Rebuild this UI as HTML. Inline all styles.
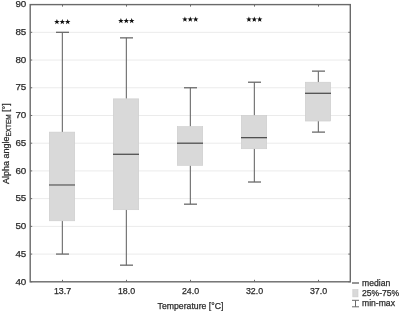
<!DOCTYPE html>
<html><head><meta charset="utf-8"><style>html,body{margin:0;padding:0;background:#fff;width:400px;height:311px;overflow:hidden}svg{display:block;will-change:transform}</style></head><body>
<svg width="400" height="311" viewBox="0 0 400 311" font-family='"Liberation Sans", sans-serif'><style>text{stroke:#333;stroke-width:0.25px}</style>
<rect width="400" height="311" fill="#fff"/>
<line x1="30.2" y1="254.08" x2="350.3" y2="254.08" stroke="#ebebeb" stroke-width="1"/>
<line x1="30.2" y1="226.36" x2="350.3" y2="226.36" stroke="#ebebeb" stroke-width="1"/>
<line x1="30.2" y1="198.64" x2="350.3" y2="198.64" stroke="#ebebeb" stroke-width="1"/>
<line x1="30.2" y1="170.92" x2="350.3" y2="170.92" stroke="#ebebeb" stroke-width="1"/>
<line x1="30.2" y1="143.20" x2="350.3" y2="143.20" stroke="#ebebeb" stroke-width="1"/>
<line x1="30.2" y1="115.48" x2="350.3" y2="115.48" stroke="#ebebeb" stroke-width="1"/>
<line x1="30.2" y1="87.76" x2="350.3" y2="87.76" stroke="#ebebeb" stroke-width="1"/>
<line x1="30.2" y1="60.04" x2="350.3" y2="60.04" stroke="#ebebeb" stroke-width="1"/>
<line x1="30.2" y1="32.32" x2="350.3" y2="32.32" stroke="#ebebeb" stroke-width="1"/>
<line x1="62.35" y1="32.32" x2="62.35" y2="132.11" stroke="#6a6a6a" stroke-width="1.1"/>
<line x1="62.35" y1="220.82" x2="62.35" y2="254.08" stroke="#6a6a6a" stroke-width="1.1"/>
<line x1="56.0" y1="32.32" x2="69.0" y2="32.32" stroke="#6a6a6a" stroke-width="1.3"/>
<line x1="56.0" y1="254.08" x2="69.0" y2="254.08" stroke="#6a6a6a" stroke-width="1.3"/>
<rect x="49.3" y="132.11" width="25.4" height="88.70" fill="#d9d9d9" stroke="#cccccc" stroke-width="0.6"/>
<line x1="49.0" y1="184.98" x2="75.0" y2="184.98" stroke="#727272" stroke-width="1.5"/>
<polygon points="56.90,18.99 57.62,20.90 59.66,20.99 58.06,22.27 58.60,24.24 56.90,23.11 55.20,24.24 55.74,22.27 54.14,20.99 56.18,20.90" fill="#111"/>
<polygon points="62.30,18.99 63.02,20.90 65.06,20.99 63.46,22.27 64.00,24.24 62.30,23.11 60.60,24.24 61.14,22.27 59.54,20.99 61.58,20.90" fill="#111"/>
<polygon points="67.70,18.99 68.42,20.90 70.46,20.99 68.86,22.27 69.40,24.24 67.70,23.11 66.00,24.24 66.54,22.27 64.94,20.99 66.98,20.90" fill="#111"/>
<line x1="126.35" y1="37.86" x2="126.35" y2="98.85" stroke="#6a6a6a" stroke-width="1.1"/>
<line x1="126.35" y1="209.73" x2="126.35" y2="265.17" stroke="#6a6a6a" stroke-width="1.1"/>
<line x1="120.0" y1="37.86" x2="133.0" y2="37.86" stroke="#6a6a6a" stroke-width="1.3"/>
<line x1="120.0" y1="265.17" x2="133.0" y2="265.17" stroke="#6a6a6a" stroke-width="1.3"/>
<rect x="113.3" y="98.85" width="25.4" height="110.88" fill="#d9d9d9" stroke="#cccccc" stroke-width="0.6"/>
<line x1="113.0" y1="154.29" x2="139.0" y2="154.29" stroke="#505050" stroke-width="1.3"/>
<polygon points="120.90,17.99 121.62,19.90 123.66,19.99 122.06,21.27 122.60,23.24 120.90,22.11 119.20,23.24 119.74,21.27 118.14,19.99 120.18,19.90" fill="#111"/>
<polygon points="126.30,17.99 127.02,19.90 129.06,19.99 127.46,21.27 128.00,23.24 126.30,22.11 124.60,23.24 125.14,21.27 123.54,19.99 125.58,19.90" fill="#111"/>
<polygon points="131.70,17.99 132.42,19.90 134.46,19.99 132.86,21.27 133.40,23.24 131.70,22.11 130.00,23.24 130.54,21.27 128.94,19.99 130.98,19.90" fill="#111"/>
<line x1="190.35" y1="87.76" x2="190.35" y2="126.57" stroke="#6a6a6a" stroke-width="1.1"/>
<line x1="190.35" y1="165.38" x2="190.35" y2="204.18" stroke="#6a6a6a" stroke-width="1.1"/>
<line x1="184.0" y1="87.76" x2="197.0" y2="87.76" stroke="#6a6a6a" stroke-width="1.3"/>
<line x1="184.0" y1="204.18" x2="197.0" y2="204.18" stroke="#6a6a6a" stroke-width="1.3"/>
<rect x="177.3" y="126.57" width="25.4" height="38.81" fill="#d9d9d9" stroke="#cccccc" stroke-width="0.6"/>
<line x1="177.0" y1="143.20" x2="203.0" y2="143.20" stroke="#505050" stroke-width="1.3"/>
<polygon points="184.90,16.49 185.62,18.40 187.66,18.49 186.06,19.77 186.60,21.74 184.90,20.61 183.20,21.74 183.74,19.77 182.14,18.49 184.18,18.40" fill="#111"/>
<polygon points="190.30,16.49 191.02,18.40 193.06,18.49 191.46,19.77 192.00,21.74 190.30,20.61 188.60,21.74 189.14,19.77 187.54,18.49 189.58,18.40" fill="#111"/>
<polygon points="195.70,16.49 196.42,18.40 198.46,18.49 196.86,19.77 197.40,21.74 195.70,20.61 194.00,21.74 194.54,19.77 192.94,18.49 194.98,18.40" fill="#111"/>
<line x1="254.35" y1="82.22" x2="254.35" y2="115.48" stroke="#6a6a6a" stroke-width="1.1"/>
<line x1="254.35" y1="148.74" x2="254.35" y2="182.01" stroke="#6a6a6a" stroke-width="1.1"/>
<line x1="248.0" y1="82.22" x2="261.0" y2="82.22" stroke="#6a6a6a" stroke-width="1.3"/>
<line x1="248.0" y1="182.01" x2="261.0" y2="182.01" stroke="#6a6a6a" stroke-width="1.3"/>
<rect x="241.3" y="115.48" width="25.4" height="33.26" fill="#d9d9d9" stroke="#cccccc" stroke-width="0.6"/>
<line x1="241.0" y1="137.66" x2="267.0" y2="137.66" stroke="#505050" stroke-width="1.3"/>
<polygon points="248.90,16.59 249.62,18.50 251.66,18.59 250.06,19.87 250.60,21.84 248.90,20.71 247.20,21.84 247.74,19.87 246.14,18.59 248.18,18.50" fill="#111"/>
<polygon points="254.30,16.59 255.02,18.50 257.06,18.59 255.46,19.87 256.00,21.84 254.30,20.71 252.60,21.84 253.14,19.87 251.54,18.59 253.58,18.50" fill="#111"/>
<polygon points="259.70,16.59 260.42,18.50 262.46,18.59 260.86,19.87 261.40,21.84 259.70,20.71 258.00,21.84 258.54,19.87 256.94,18.59 258.98,18.50" fill="#111"/>
<line x1="318.35" y1="71.13" x2="318.35" y2="82.22" stroke="#6a6a6a" stroke-width="1.1"/>
<line x1="318.35" y1="121.02" x2="318.35" y2="132.11" stroke="#6a6a6a" stroke-width="1.1"/>
<line x1="312.0" y1="71.13" x2="325.0" y2="71.13" stroke="#6a6a6a" stroke-width="1.3"/>
<line x1="312.0" y1="132.11" x2="325.0" y2="132.11" stroke="#6a6a6a" stroke-width="1.3"/>
<rect x="305.3" y="82.22" width="25.4" height="38.81" fill="#d9d9d9" stroke="#cccccc" stroke-width="0.6"/>
<line x1="305.0" y1="93.30" x2="331.0" y2="93.30" stroke="#505050" stroke-width="1.3"/>
<rect x="30.2" y="4.6" width="320.1" height="277.2" fill="none" stroke="#6a6a6a" stroke-width="1.4"/>
<line x1="30.2" y1="281.80" x2="32.2" y2="281.80" stroke="#6a6a6a" stroke-width="1"/>
<line x1="348.3" y1="281.80" x2="350.3" y2="281.80" stroke="#6a6a6a" stroke-width="1"/>
<text x="26.3" y="284.50" font-size="9.8" text-anchor="end" fill="#222">40</text>
<line x1="30.2" y1="254.08" x2="32.2" y2="254.08" stroke="#6a6a6a" stroke-width="1"/>
<line x1="348.3" y1="254.08" x2="350.3" y2="254.08" stroke="#6a6a6a" stroke-width="1"/>
<text x="26.3" y="256.78" font-size="9.8" text-anchor="end" fill="#222">45</text>
<line x1="30.2" y1="226.36" x2="32.2" y2="226.36" stroke="#6a6a6a" stroke-width="1"/>
<line x1="348.3" y1="226.36" x2="350.3" y2="226.36" stroke="#6a6a6a" stroke-width="1"/>
<text x="26.3" y="229.06" font-size="9.8" text-anchor="end" fill="#222">50</text>
<line x1="30.2" y1="198.64" x2="32.2" y2="198.64" stroke="#6a6a6a" stroke-width="1"/>
<line x1="348.3" y1="198.64" x2="350.3" y2="198.64" stroke="#6a6a6a" stroke-width="1"/>
<text x="26.3" y="201.34" font-size="9.8" text-anchor="end" fill="#222">55</text>
<line x1="30.2" y1="170.92" x2="32.2" y2="170.92" stroke="#6a6a6a" stroke-width="1"/>
<line x1="348.3" y1="170.92" x2="350.3" y2="170.92" stroke="#6a6a6a" stroke-width="1"/>
<text x="26.3" y="173.62" font-size="9.8" text-anchor="end" fill="#222">60</text>
<line x1="30.2" y1="143.20" x2="32.2" y2="143.20" stroke="#6a6a6a" stroke-width="1"/>
<line x1="348.3" y1="143.20" x2="350.3" y2="143.20" stroke="#6a6a6a" stroke-width="1"/>
<text x="26.3" y="145.90" font-size="9.8" text-anchor="end" fill="#222">65</text>
<line x1="30.2" y1="115.48" x2="32.2" y2="115.48" stroke="#6a6a6a" stroke-width="1"/>
<line x1="348.3" y1="115.48" x2="350.3" y2="115.48" stroke="#6a6a6a" stroke-width="1"/>
<text x="26.3" y="118.18" font-size="9.8" text-anchor="end" fill="#222">70</text>
<line x1="30.2" y1="87.76" x2="32.2" y2="87.76" stroke="#6a6a6a" stroke-width="1"/>
<line x1="348.3" y1="87.76" x2="350.3" y2="87.76" stroke="#6a6a6a" stroke-width="1"/>
<text x="26.3" y="90.46" font-size="9.8" text-anchor="end" fill="#222">75</text>
<line x1="30.2" y1="60.04" x2="32.2" y2="60.04" stroke="#6a6a6a" stroke-width="1"/>
<line x1="348.3" y1="60.04" x2="350.3" y2="60.04" stroke="#6a6a6a" stroke-width="1"/>
<text x="26.3" y="62.74" font-size="9.8" text-anchor="end" fill="#222">80</text>
<line x1="30.2" y1="32.32" x2="32.2" y2="32.32" stroke="#6a6a6a" stroke-width="1"/>
<line x1="348.3" y1="32.32" x2="350.3" y2="32.32" stroke="#6a6a6a" stroke-width="1"/>
<text x="26.3" y="35.02" font-size="9.8" text-anchor="end" fill="#222">85</text>
<line x1="30.2" y1="4.60" x2="32.2" y2="4.60" stroke="#6a6a6a" stroke-width="1"/>
<line x1="348.3" y1="4.60" x2="350.3" y2="4.60" stroke="#6a6a6a" stroke-width="1"/>
<text x="26.3" y="7.30" font-size="9.8" text-anchor="end" fill="#222">90</text>
<line x1="62.5" y1="281.8" x2="62.5" y2="279.8" stroke="#6a6a6a" stroke-width="1"/>
<line x1="62.5" y1="4.6" x2="62.5" y2="6.6" stroke="#6a6a6a" stroke-width="1"/>
<text x="62.5" y="294.4" font-size="8.8" text-anchor="middle" fill="#222">13.7</text>
<line x1="126.5" y1="281.8" x2="126.5" y2="279.8" stroke="#6a6a6a" stroke-width="1"/>
<line x1="126.5" y1="4.6" x2="126.5" y2="6.6" stroke="#6a6a6a" stroke-width="1"/>
<text x="126.5" y="294.4" font-size="8.8" text-anchor="middle" fill="#222">18.0</text>
<line x1="190.5" y1="281.8" x2="190.5" y2="279.8" stroke="#6a6a6a" stroke-width="1"/>
<line x1="190.5" y1="4.6" x2="190.5" y2="6.6" stroke="#6a6a6a" stroke-width="1"/>
<text x="190.5" y="294.4" font-size="8.8" text-anchor="middle" fill="#222">24.0</text>
<line x1="254.5" y1="281.8" x2="254.5" y2="279.8" stroke="#6a6a6a" stroke-width="1"/>
<line x1="254.5" y1="4.6" x2="254.5" y2="6.6" stroke="#6a6a6a" stroke-width="1"/>
<text x="254.5" y="294.4" font-size="8.8" text-anchor="middle" fill="#222">32.0</text>
<line x1="318.5" y1="281.8" x2="318.5" y2="279.8" stroke="#6a6a6a" stroke-width="1"/>
<line x1="318.5" y1="4.6" x2="318.5" y2="6.6" stroke="#6a6a6a" stroke-width="1"/>
<text x="318.5" y="294.4" font-size="8.8" text-anchor="middle" fill="#222">37.0</text>
<text x="190.5" y="308.6" font-size="8.7" text-anchor="middle" fill="#222">Temperature [°C]</text>
<text transform="translate(9.1,184.0) rotate(-90)" font-size="9.0" fill="#222">Alpha angle<tspan font-size="6.4" dy="1.6">EXTEM</tspan><tspan dy="-1.6"> [°]</tspan></text>
<line x1="352" y1="283" x2="359" y2="283" stroke="#505050" stroke-width="1.2"/>
<text x="362" y="286" font-size="8.6" fill="#222">median</text>
<rect x="352.8" y="289.6" width="5.2" height="7.3" fill="#d9d9d9" stroke="#cccccc" stroke-width="0.6"/>
<text x="362" y="296.3" font-size="8.6" fill="#222">25%-75%</text>
<path d="M352 300.3H359M355.5 300.3V306.8M352 306.8H359" stroke="#6a6a6a" stroke-width="1" fill="none"/>
<text x="362" y="306.2" font-size="8.6" fill="#222">min-max</text>
</svg>
</body></html>
